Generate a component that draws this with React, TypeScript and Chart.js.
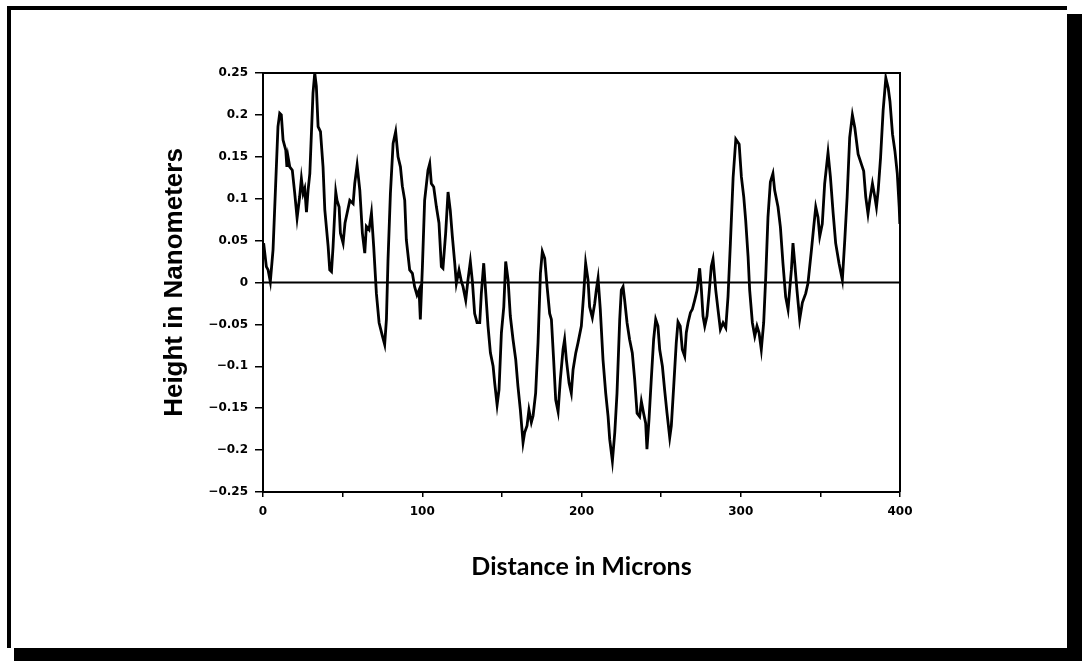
import React, { useEffect, useRef } from "react";
import { Chart, registerables } from "chart.js";

Chart.register(...registerables);

// Surface profile: distance along the scan (microns) and measured height (nm)
const distanceMicrons = [
  0.4, 2.1, 3.2, 4.6, 6.3, 9.4, 10.5, 11.5, 12.6, 14.3, 15.0, 15.7, 16.8, 18.4, 19.9,
  21.4, 23.0, 24.1, 25.2, 26.2, 27.3, 28.3, 29.4, 31.4, 32.5, 33.5, 34.6, 36.1, 37.7,
  38.8, 40.9, 41.9, 43.0, 44.0, 45.7, 46.5, 47.8, 48.6, 50.3, 51.5, 53.4, 54.5, 56.6,
  57.6, 59.1, 60.8, 62.4, 63.9, 64.9, 66.6, 68.1, 69.5, 71.2, 72.9, 75.0, 76.4, 77.5,
  78.5, 80.0, 81.7, 83.3, 84.8, 86.3, 87.5, 89.0, 90.0, 92.1, 93.8, 95.2, 96.7, 98.0,
  98.8, 100.1, 101.5, 103.6, 104.7, 105.7, 107.2, 108.9, 110.5, 112.0, 113.0, 114.7,
  116.2, 117.6, 118.9, 120.4, 121.4, 123.1, 124.6, 125.6, 127.3, 128.7, 130.2, 131.5,
  132.9, 134.4, 136.1, 137.1, 138.6, 139.9, 141.3, 142.8, 144.5, 145.5, 147.0, 148.2,
  149.7, 151.2, 152.4, 153.9, 155.3, 157.0, 158.7, 160.1, 161.6, 163.3, 164.3, 165.8,
  167.0, 168.5, 169.6, 171.2, 172.7, 174.2, 175.4, 176.9, 178.4, 180.0, 181.1, 182.5,
  183.8, 185.3, 186.7, 188.4, 189.4, 190.5, 192.2, 193.6, 194.7, 196.4, 197.8, 199.9,
  201.4, 202.6, 204.1, 205.1, 206.8, 208.3, 209.3, 210.4, 211.8, 213.5, 215.2, 216.7,
  217.7, 219.4, 220.9, 222.3, 224.0, 225.0, 226.1, 227.1, 228.6, 230.2, 231.9, 233.4,
  234.9, 236.5, 237.6, 239.0, 240.3, 241.1, 242.4, 243.8, 245.3, 246.6, 248.0, 249.1,
  250.8, 252.2, 253.7, 255.4, 256.4, 257.9, 259.5, 260.6, 262.0, 263.3, 264.8, 265.8,
  266.9, 268.4, 269.6, 271.1, 272.6, 274.2, 275.3, 276.3, 277.4, 278.8, 280.1, 281.5,
  282.6, 284.3, 285.7, 287.2, 288.9, 290.6, 292.0, 293.5, 295.2, 296.9, 299.0, 300.4,
  301.9, 303.1, 304.6, 305.6, 307.3, 308.8, 310.2, 311.5, 312.9, 314.4, 315.7, 317.1,
  318.6, 320.2, 321.3, 323.4, 324.9, 326.5, 328.2, 329.7, 330.7, 331.8, 332.8, 333.9,
  335.3, 337.0, 338.7, 340.8, 342.2, 344.4, 345.8, 347.1, 348.5, 349.6, 351.2, 352.7,
  354.8, 356.3, 358.0, 359.6, 361.7, 363.8, 365.3, 366.8, 368.4, 370.1, 371.6, 373.7,
  375.8, 377.2, 378.5, 379.9, 381.0, 382.7, 384.2, 385.2, 386.3, 387.8, 389.4, 391.1,
  392.6, 393.7, 395.3, 396.8, 398.3, 399.5, 399.9,
];

const heightNm = [
  0.047, 0.019, 0.015, 0.001, 0.039, 0.186, 0.202, 0.2, 0.17, 0.158, 0.138, 0.15, 0.138,
  0.134, 0.107, 0.077, 0.102, 0.124, 0.106, 0.112, 0.084, 0.11, 0.13, 0.226, 0.25, 0.234,
  0.186, 0.18, 0.138, 0.087, 0.043, 0.015, 0.013, 0.043, 0.108, 0.098, 0.09, 0.059, 0.047,
  0.071, 0.088, 0.098, 0.094, 0.118, 0.14, 0.11, 0.059, 0.035, 0.067, 0.063, 0.083, 0.043,
  -0.013, -0.048, -0.064, -0.074, -0.044, 0.027, 0.106, 0.166, 0.18, 0.15, 0.138, 0.115,
  0.098, 0.051, 0.015, 0.011, -0.005, -0.015, -0.009, -0.044, 0.019, 0.098, 0.134, 0.142,
  0.118, 0.114, 0.09, 0.071, 0.019, 0.017, 0.059, 0.108, 0.086, 0.055, 0.023, -0.001,
  0.015, 0.001, -0.005, -0.021, 0.003, 0.025, 0.001, -0.037, -0.048, -0.048, -0.013,
  0.023, -0.013, -0.052, -0.084, -0.1, -0.12, -0.146, -0.128, -0.06, -0.029, 0.025, 0.003,
  -0.04, -0.068, -0.092, -0.124, -0.152, -0.191, -0.179, -0.171, -0.152, -0.167, -0.159,
  -0.132, -0.072, 0.011, 0.037, 0.029, -0.005, -0.037, -0.044, -0.092, -0.14, -0.154,
  -0.116, -0.08, -0.068, -0.092, -0.12, -0.132, -0.104, -0.084, -0.072, -0.052, -0.013,
  0.023, 0.003, -0.029, -0.042, -0.025, -0.009, 0.005, -0.032, -0.092, -0.132, -0.16,
  -0.187, -0.213, -0.179, -0.132, -0.044, -0.009, -0.005, -0.021, -0.048, -0.068, -0.084,
  -0.116, -0.156, -0.16, -0.142, -0.156, -0.168, -0.199, -0.163, -0.116, -0.068, -0.044,
  -0.052, -0.08, -0.1, -0.128, -0.156, -0.185, -0.171, -0.124, -0.072, -0.047, -0.052,
  -0.08, -0.088, -0.06, -0.048, -0.036, -0.032, -0.021, -0.009, 0.017, -0.009, -0.04,
  -0.052, -0.04, -0.013, 0.019, 0.028, -0.009, -0.032, -0.056, -0.048, -0.054, -0.017,
  0.047, 0.125, 0.171, 0.165, 0.126, 0.102, 0.074, 0.031, -0.009, -0.048, -0.064, -0.052,
  -0.06, -0.08, -0.048, 0.007, 0.078, 0.12, 0.13, 0.11, 0.09, 0.066, 0.023, -0.017, -0.032,
  -0.009, 0.015, 0.047, 0.023, -0.009, -0.044, -0.024, -0.013, -0.001, 0.039, 0.066, 0.09,
  0.078, 0.055, 0.07, 0.118, 0.155, 0.126, 0.083, 0.047, 0.023, 0.003, 0.05, 0.102, 0.173,
  0.2, 0.185, 0.153, 0.141, 0.133, 0.102, 0.082, 0.098, 0.118, 0.102, 0.09, 0.11, 0.149,
  0.205, 0.244, 0.232, 0.216, 0.177, 0.157, 0.13, 0.09, 0.07,
];

const xTickLabels = ["0", "100", "200", "300", "400"];

const W = 1082;
const H = 661;

// Outlines the plot box (top and right edges) and draws the zero baseline
const plotFrame = {
  id: "plotFrame",
  afterDatasetsDraw(chart: any) {
    const { ctx, chartArea, scales } = chart;
    const zeroY = scales.y.getPixelForValue(0);
    ctx.save();
    ctx.strokeStyle = "#000";
    ctx.lineWidth = 2;
    ctx.beginPath();
    ctx.moveTo(chartArea.left, chartArea.top);
    ctx.lineTo(chartArea.right, chartArea.top);
    ctx.lineTo(chartArea.right, chartArea.bottom);
    ctx.stroke();
    ctx.lineWidth = 2.2;
    ctx.beginPath();
    ctx.moveTo(chartArea.left, zeroY);
    ctx.lineTo(chartArea.right, zeroY);
    ctx.stroke();
    ctx.restore();
  },
};

export default function App() {
  const canvasRef = useRef<HTMLCanvasElement | null>(null);

  useEffect(() => {
    if (!canvasRef.current) return;
    const points = distanceMicrons.map((d, i) => ({ x: d, y: heightNm[i] }));
    const chart = new Chart(canvasRef.current, {
      type: "line",
      data: {
        datasets: [
          {
            data: points,
            borderColor: "#000",
            borderWidth: 2.8,
            pointRadius: 0,
            tension: 0,
            fill: false,
          },
        ],
      },
      options: {
        animation: false,
        responsive: false,
        maintainAspectRatio: false,
        layout: { padding: { left: 150, top: 73, right: 182, bottom: 61 } },
        plugins: {
          legend: { display: false },
          tooltip: { enabled: false },
        },
        scales: {
          x: {
            type: "linear",
            min: 0,
            max: 400,
            afterFit: (s: any) => {
              s.height = 108;
            },
            ticks: {
              stepSize: 50,
              autoSkip: false,
              maxRotation: 0,
              padding: 8,
              color: "#000",
              font: { family: "DejaVu Sans", size: 12, weight: "bold" },
              callback: (v: any) => {
                const label = String(v);
                return xTickLabels.includes(label) ? label : "";
              },
            },
            grid: {
              drawOnChartArea: false,
              drawTicks: true,
              tickLength: 5,
              color: "#000",
              lineWidth: 1.5,
            },
            border: { display: true, color: "#000", width: 2 },
            title: {
              display: true,
              text: "Distance in Microns",
              color: "#000",
              font: { family: "Lato", size: 25, weight: "bold" },
              padding: { top: 0, bottom: 18 },
            },
          },
          y: {
            type: "linear",
            min: -0.25,
            max: 0.25,
            afterFit: (s: any) => {
              s.width = 113;
            },
            ticks: {
              stepSize: 0.05,
              autoSkip: false,
              padding: 7,
              color: "#000",
              font: { family: "DejaVu Sans", size: 12, weight: "bold" },
              callback: (v: any) => String(Number(Number(v).toFixed(2))).replace("-", "\u2212"),
            },
            grid: {
              drawOnChartArea: false,
              drawTicks: true,
              tickLength: 8,
              color: "#000",
              lineWidth: 1.5,
            },
            border: { display: true, color: "#000", width: 2 },
            title: {
              display: true,
              text: "Height in Nanometers",
              color: "#000",
              font: { family: "Liberation Sans", size: 26, weight: "bold" },
              padding: { top: 9, bottom: 0 },
            },
          },
        },
      },
      plugins: [plotFrame],
    });
    return () => chart.destroy();
  }, []);

  return (
    <div
      style={{
        position: "fixed",
        left: 0,
        top: 0,
        width: W,
        height: H,
        background: "#fff",
        overflow: "hidden",
      }}
    >
      {/* drop shadow behind the card */}
      <div style={{ position: "absolute", left: 1067, top: 14, width: 15, height: H - 14, background: "#000" }} />
      <div style={{ position: "absolute", left: 14, top: 648, width: W - 14, height: 13, background: "#000" }} />
      {/* card outline */}
      <div
        style={{
          position: "absolute",
          left: 7,
          top: 6,
          width: 1060 - 4,
          height: 642 - 4,
          borderLeft: "4px solid #000",
          borderTop: "4px solid #000",
          background: "#fff",
        }}
      />
      <canvas
        ref={canvasRef}
        width={W}
        height={H}
        style={{ position: "absolute", left: 0, top: 0, width: W, height: H }}
      />
    </div>
  );
}
